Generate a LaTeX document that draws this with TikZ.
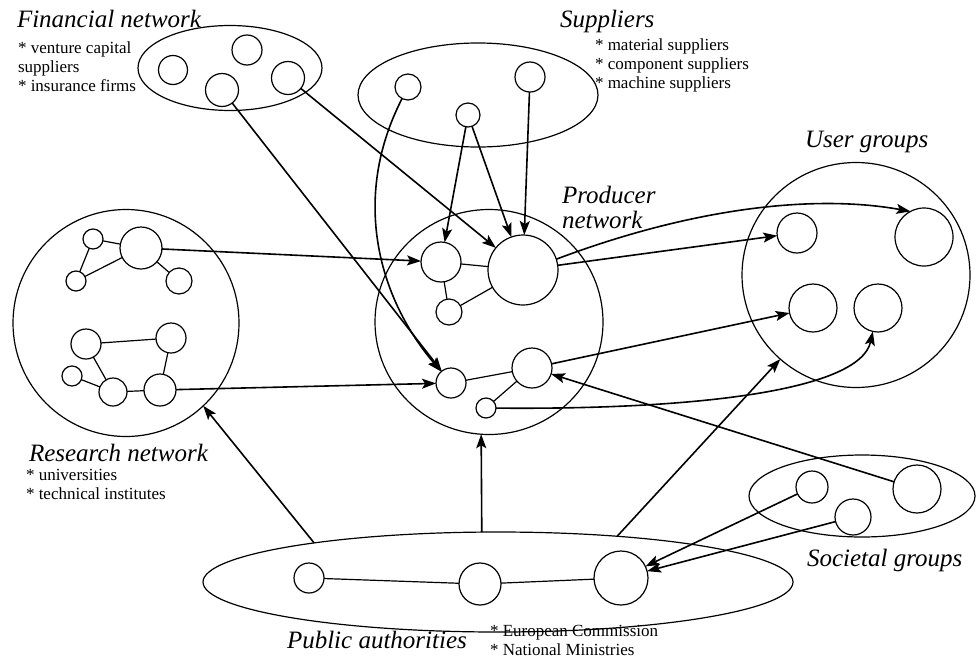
\documentclass[tikz,border=0pt]{standalone}
\usepackage{fontspec}
\setmainfont{Liberation Serif}
\usetikzlibrary{arrows.meta}
\usetikzlibrary{shapes.geometric}

\begin{document}
\begin{tikzpicture}[x=1pt, y=-1pt]

\tikzstyle{every node}=[font=\fontsize{17}{19}\selectfont, inner sep=0pt, outer sep=0pt]
\tikzstyle{cluster}=[ellipse, draw, line width=1.2pt]
\tikzstyle{actor}=[circle, draw, line width=1.2pt]
\tikzstyle{grouplabel}=[font=\fontsize{25}{25}\selectfont\itshape, anchor=base west, align=left]
\tikzstyle{itemlist}=[anchor=base west, align=left]
\tikzstyle{link}=[line width=1.2pt]
\tikzstyle{flow}=[-{Stealth[length=14pt,width=10pt,inset=3pt]}, line width=1.6pt]

\useasboundingbox (0,0) rectangle (976,659);

% the groups
\node (fin) at (230,68) [cluster, minimum width=184, minimum height=85] {};
\node (sup) at (478,95) [cluster, minimum width=240, minimum height=104] {};
\node (prod) at (489,322) [cluster, minimum width=228, minimum height=225] {};
\node (user) at (856,275) [cluster, minimum width=228, minimum height=225] {};
\node (res) at (126,323) [cluster, minimum width=226, minimum height=227] {};
\node (soc) at (862,496) [cluster, minimum width=226, minimum height=82] {};
\node (pub) at (498,582) [cluster, minimum width=590, minimum height=100] {};

% labels (a multi-line node sits on its last line)
\node (finTitle) at (17,27) [grouplabel] {Financial network};
\node (finList) at (18,91) [itemlist] {* venture capital\\suppliers\\* insurance firms};
\node (supTitle) at (560,27) [grouplabel] {Suppliers};
\node (supList) at (595,88) [itemlist] {* material suppliers\\* component suppliers\\* machine suppliers};
\node (prodTitle) at (562,228) [grouplabel] {Producer\\network};
\node (userTitle) at (805,147) [grouplabel] {User groups};
\node (resTitle) at (29,461) [grouplabel] {Research network};
\node (resList) at (26,499) [itemlist] {* universities\\* technical institutes};
\node (pubTitle) at (287,648) [grouplabel] {Public authorities};
\node (pubList) at (490,655) [itemlist] {* European Commission\\* National Ministries};
\node (socTitle) at (807,566) [grouplabel] {Societal groups};

% the actors
\node (finA) at (173,70) [actor, minimum size=29] {};
\node (finB) at (247,50) [actor, minimum size=30] {};
\node (finC) at (222,90) [actor, minimum size=33] {};
\node (finD) at (288,78) [actor, minimum size=33] {};

\node (supA) at (408,87) [actor, minimum size=26] {};
\node (supB) at (468,115) [actor, minimum size=24] {};
\node (supC) at (530,77) [actor, minimum size=30] {};

\node (prodBig) at (523,270) [actor, minimum size=70] {};
\node (prodUL) at (441,262) [actor, minimum size=40] {};
\node (prodUS) at (449,312) [actor, minimum size=26] {};
\node (prodBL) at (451,383) [actor, minimum size=30] {};
\node (prodMR) at (532,368) [actor, minimum size=40] {};
\node (prodT) at (486,408) [actor, minimum size=20] {};

\node (userA) at (797,233) [actor, minimum size=40] {};
\node (userB) at (924,237) [actor, minimum size=58] {};
\node (userC) at (813,308) [actor, minimum size=48] {};
\node (userD) at (878,308) [actor, minimum size=48] {};

\node (resA) at (93,239) [actor, minimum size=20] {};
\node (resB) at (141,248) [actor, minimum size=42] {};
\node (resC) at (76,281) [actor, minimum size=20] {};
\node (resD) at (179,281) [actor, minimum size=26] {};
\node (resE) at (86,344) [actor, minimum size=30] {};
\node (resF) at (171,338) [actor, minimum size=30] {};
\node (resG) at (72,376) [actor, minimum size=20] {};
\node (resH) at (113,392) [actor, minimum size=28] {};
\node (resI) at (160,390) [actor, minimum size=32] {};

\node (socA) at (812,487) [actor, minimum size=32] {};
\node (socB) at (853,517) [actor, minimum size=36] {};
\node (socC) at (917,489) [actor, minimum size=48] {};

\node (pubA) at (309,578) [actor, minimum size=30] {};
\node (pubB) at (480,584) [actor, minimum size=42] {};
\node (pubC) at (621,578) [actor, minimum size=54] {};

% ties inside the groups
\draw[link] (resA) -- (resB);
\draw[link] (resA) -- (resC);
\draw[link] (resC) -- (resB);
\draw[link] (resB) -- (resD);
\draw[link] (resE) -- (resF);
\draw[link] (resE) -- (resH);
\draw[link] (resG) -- (resH);
\draw[link] (resH) -- (resI);
\draw[link] (resI) -- (resF);

\draw[link] (prodUL) -- (prodBig);
\draw[link] (prodUL) -- (prodUS);
\draw[link] (prodUS) -- (prodBig);
\draw[link] (prodBL) -- (prodMR);
\draw[link] (prodMR) -- (prodT);

\draw[link] (pubA) -- (pubB);
\draw[link] (pubB) -- (pubC);

% flows between the groups
\draw[flow] (finC) -- (prodBL);
\draw[flow] (finD) -- (prodBig);
\draw[flow] (supA) .. controls (350,200) and (380,300) .. (prodBL);
\draw[flow] (supB) -- (prodUL);
\draw[flow] (supB) -- (prodBig);
\draw[flow] (supC) -- (prodBig);
\draw[flow] (resB) -- (prodUL);
\draw[flow] (resI) -- (prodBL);
\draw[flow] (prodBig) -- (userA);
\draw[flow] (prodBig.18) .. controls (700,205) and (820,195) .. (userB.118);
\draw[flow] (prodMR) -- (userC);
\draw[flow] (prodT) .. controls (700,410) and (860,390) .. (userD);
\draw[flow] (socC) -- (prodMR);
\draw[flow] (socA) -- (pubC);
\draw[flow] (socB) -- (pubC);
\draw[flow] (pub.108) -- (prod.266);
\draw[flow] (pub.168) -- (res.313);
\draw[flow] (pub.21) -- (user.228);

\end{tikzpicture}
\end{document}
